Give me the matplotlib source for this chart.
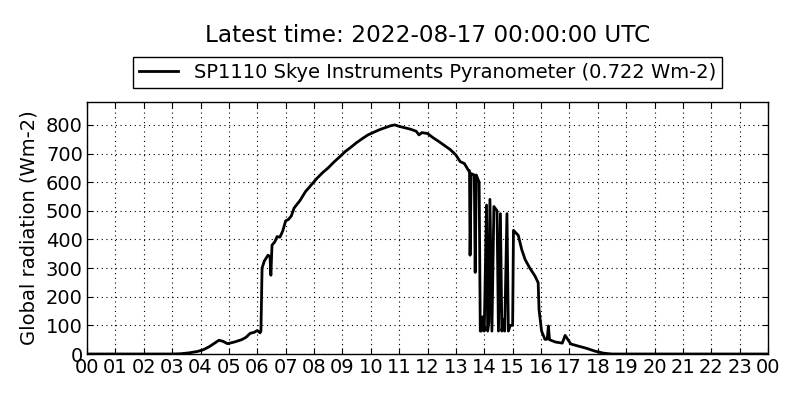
import matplotlib
matplotlib.use("Agg")
import matplotlib.pyplot as plt
import numpy as np

# time in hours (UTC) and global radiation (Wm-2)
hours = [0.0, 1.0, 2.0, 3.0, 3.3, 3.6, 3.9, 4.1, 4.3, 4.5, 4.65, 4.8, 4.95, 5.2, 5.45,
         5.6, 5.75, 5.9, 6.0, 6.1, 6.13, 6.17, 6.25, 6.38, 6.45, 6.48, 6.52, 6.62, 6.7,
         6.8, 6.9, 7.0, 7.1, 7.2, 7.3, 7.5, 7.7, 7.9, 8.1, 8.3, 8.5, 8.7, 8.9, 9.1, 9.3,
         9.5, 9.7, 9.9, 10.1, 10.3, 10.5, 10.7, 10.85, 11.0, 11.2, 11.4, 11.6, 11.7,
         11.8, 12.0, 12.2, 12.4, 12.6, 12.8, 13.0, 13.15, 13.3, 13.45, 13.48, 13.5,
         13.54, 13.65, 13.68, 13.72, 13.82, 13.86, 13.9, 13.95, 14.0, 14.08, 14.12,
         14.16, 14.2, 14.27, 14.34, 14.45, 14.5, 14.57, 14.62, 14.68, 14.72, 14.8, 14.85,
         14.92, 15.0, 15.03, 15.2, 15.32, 15.44, 15.6, 15.79, 15.9, 15.93,
         16.02, 16.14, 16.22, 16.26, 16.3, 16.5, 16.75, 16.85, 16.95, 17.05,
         17.3, 17.6, 17.9, 18.2, 18.5, 19.0, 20.0, 21.0, 22.0, 23.0, 24.0]
radiation = [0, 0, 0, 0, 1, 4, 9, 15, 25, 38, 48, 44, 36, 42, 50,
             58, 72, 76, 82, 74, 80, 300, 325, 345, 340, 275, 380, 392, 410,
             408, 430, 465, 470, 482, 510, 535, 567, 590, 613, 633, 650, 670, 688, 707, 722,
             738, 752, 765, 774, 783, 790, 797, 800, 795, 790, 785, 778, 765,
             773, 770, 755, 742, 728, 714, 695, 672, 665, 640, 640, 345,
             630, 625, 285, 625, 600, 80, 80, 130, 80, 520, 80,
             110, 540, 80, 515, 500, 80, 490, 80, 120, 80, 490, 80,
             100, 100, 432, 414, 365, 330, 301, 272, 249, 156,
             80, 51, 52, 98, 50, 42, 38, 65, 50, 35,
             28, 20, 10, 3, 0, 0, 0, 0, 0, 0, 0]

hour_ticks = list(range(0, 25))
hour_labels = ["%02d" % (h % 24) for h in hour_ticks]
y_ticks = list(range(0, 801, 100))

title_text = "Latest time: 2022-08-17 00:00:00 UTC"
series_label = "SP1110 Skye Instruments Pyranometer (0.722 Wm-2)"
y_label = "Global radiation (Wm-2)"

plt.rcParams["lines.scale_dashes"] = False

fig = plt.figure(figsize=(8, 4), dpi=100, facecolor="white")
ax = fig.add_axes([0.10875, 0.115, 0.85125, 0.63])
ax.plot(hours, radiation, color="black", linewidth=2, label=series_label)
ax.set_xlim(0, 24)
ax.set_ylim(0, 880)
ax.set_xticks(hour_ticks)
ax.set_xticklabels(hour_labels)
ax.set_yticks(y_ticks)
ax.tick_params(direction="in", top=True, right=True, labelsize=14, length=4, pad=3)
ax.grid(True, linestyle=(0, (0.8, 2.6)), color="black", linewidth=0.8)
ax.set_ylabel(y_label, fontsize=14, labelpad=5)
leg = ax.legend(loc="center", bbox_to_anchor=(0.5, 1.117), fontsize=14,
                fancybox=False, framealpha=1, edgecolor="black", handlelength=2.0,
                borderpad=0.3)
leg.get_frame().set_linewidth(1.0)
fig.text(0.534, 0.9125, title_text, ha="center", va="center", fontsize=16.7)
for s in ax.spines.values():
    s.set_linewidth(1.0)
fig.savefig("out.png", dpi=100, facecolor="white")
